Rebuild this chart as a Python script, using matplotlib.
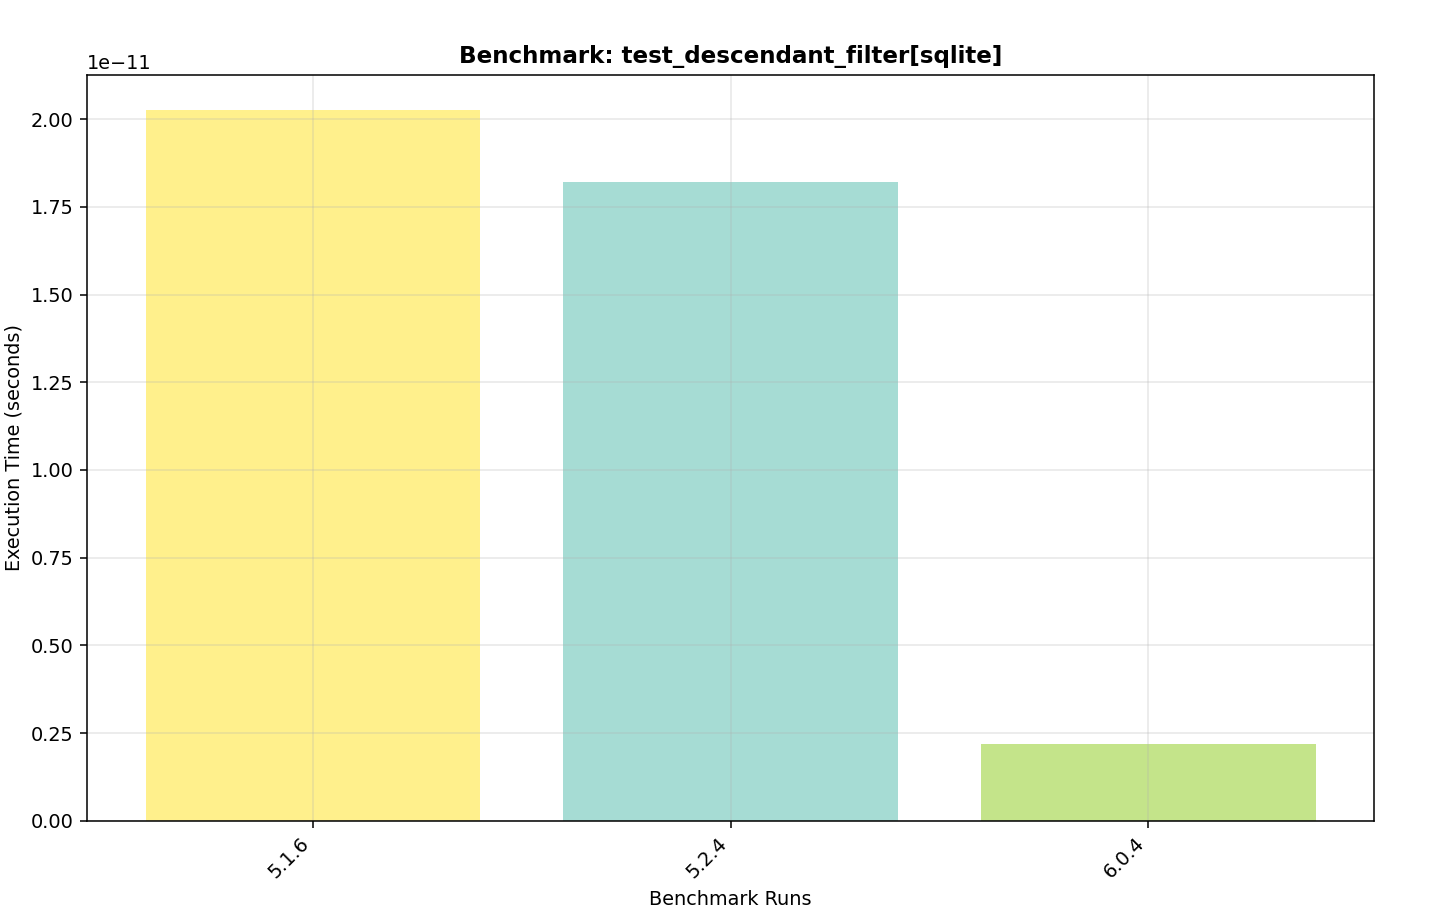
import matplotlib
matplotlib.use("Agg")
import matplotlib.pyplot as plt

versions = ["5.1.6", "5.2.4", "6.0.4"]
times = [2.025e-11, 1.82e-11, 0.22e-11]
colors = ["#fff08c", "#a6dcd4", "#c4e48a"]

DPI = 138.3


def main():
    fig = plt.figure(figsize=(1434 / DPI, 913 / DPI), dpi=DPI)
    ax = fig.add_axes([0.0607, 0.101, 0.8975, 0.817])

    x = range(len(versions))
    ax.bar(x, times, color=colors, width=0.8)
    ax.set_xticks(list(x))
    ax.set_xticklabels(versions, rotation=45, ha="right")
    ax.grid(True, alpha=0.3)

    ax.set_title("Benchmark: test_descendant_filter[sqlite]", fontsize=12, fontweight="bold")
    ax.set_xlabel("Benchmark Runs")
    ax.set_ylabel("Execution Time (seconds)")

    fig.savefig("out.png", dpi=DPI)


if __name__ == "__main__":
    main()
